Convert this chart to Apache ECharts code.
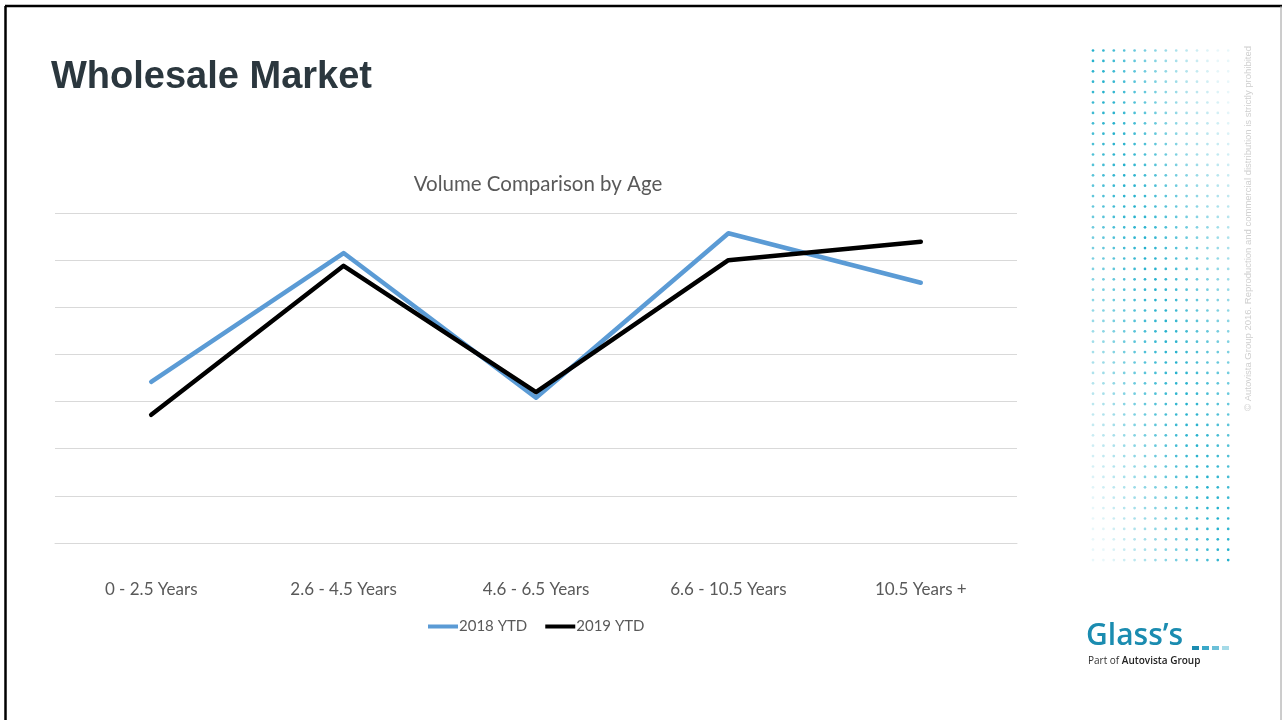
<!DOCTYPE html>
<html>
<head>
<meta charset="utf-8">
<script src="https://cdn.jsdelivr.net/npm/echarts@6/dist/echarts.min.js"></script>
<style>
html,body{margin:0;padding:0;background:#fff;}
#c{width:1282px;height:720px;}
</style>
</head>
<body>
<div id="c"></div>
<script>
const categories = ['0 - 2.5 Years', '2.6 - 4.5 Years', '4.6 - 6.5 Years', '6.6 - 10.5 Years', '10.5 Years +'];
const seriesNames = ['2018 YTD', '2019 YTD'];
const values2018 = [3420, 6150, 3080, 6570, 5520];
const values2019 = [2720, 5880, 3200, 6000, 6390];

const chart = echarts.init(document.getElementById('c'), null, {renderer: 'canvas'});

// decorative dot field (not data)
const dots = [];
const cols = 14, rows = 50;
for (let r = 0; r < rows; r++) {
  for (let c = 0; c < cols; c++) {
    const xf = c / (cols - 1), yf = r / (rows - 1);
    const op = Math.max(0.1, 1 - Math.abs(xf - yf) * 1.0);
    dots.push({
      type: 'circle',
      shape: {cx: 1093 + c * 10.4, cy: 50.5 + r * 10.4, r: 1.35},
      style: {fill: '#22b0cc', opacity: op},
      silent: true
    });
  }
}

const option = {
  backgroundColor: '#ffffff',
  animation: false,
  title: {
    text: 'Volume Comparison by Age',
    left: 533, top: 169, textAlign: 'center',
    textStyle: {fontFamily: 'Lato', fontSize: 20.5, fontWeight: 'normal', color: '#595959'}
  },
  legend: {
    data: seriesNames,
    left: 423, top: 614,
    itemWidth: 30, itemHeight: 4, itemGap: 18,
    icon: 'rect',
    textStyle: {fontFamily: 'Lato', fontSize: 15, color: '#595959', padding: [0,0,0,-4]}
  },
  grid: {left: 55, right: 265, top: 213, bottom: 177},
  xAxis: {
    type: 'category',
    data: categories,
    boundaryGap: true,
    axisLine: {lineStyle: {color: '#d9d9d9', width: 1}},
    axisTick: {show: false},
    axisLabel: {fontFamily: 'Lato', fontSize: 17, color: '#595959', margin: 38}
  },
  yAxis: {
    type: 'value',
    min: 0, max: 7000, interval: 1000,
    axisLabel: {show: false},
    axisLine: {show: false},
    axisTick: {show: false},
    splitLine: {lineStyle: {color: '#d9d9d9', width: 1}}
  },
  series: [
    {name: seriesNames[0], type: 'line', data: values2018, symbol: 'none',
     lineStyle: {color: '#5b9bd5', width: 4.5, cap: 'round', join: 'round'}, itemStyle: {color: '#5b9bd5'}},
    {name: seriesNames[1], type: 'line', data: values2019, symbol: 'none',
     lineStyle: {color: '#000000', width: 4.5, cap: 'round', join: 'round'}, itemStyle: {color: '#000000'}}
  ],
  graphic: [
    {type: 'line', shape: {x1: 5, y1: 6, x2: 1282, y2: 6}, style: {stroke: '#000', lineWidth: 2.5}, silent: true},
    {type: 'line', shape: {x1: 5.5, y1: 6, x2: 5.5, y2: 720}, style: {stroke: '#000', lineWidth: 2.5}, silent: true},
    {type: 'line', shape: {x1: 1281, y1: 6, x2: 1281, y2: 720}, style: {stroke: '#9a9a9a', lineWidth: 1}, silent: true},
    {type: 'text', left: 51, top: 59,
     style: {text: 'Wholesale Market', font: 'bold 38px "Liberation Sans", Arial, sans-serif', fill: '#2b373e'}},
    {type: 'group', children: dots, silent: true},
    {type: 'text', x: 1243, y: 411, rotation: Math.PI / 2,
     style: {text: '\u00A9 Autovista Group 2016. Reproduction and commercial distribution is strictly prohibited',
       font: '9.5px "Liberation Sans", Arial, sans-serif', fill: '#cfcfcf'}},
    {type: 'text', left: 1086, top: 621,
     style: {text: 'Glass\u2019s', font: '600 30px "Open Sans", sans-serif', fill: '#1b8cb0'}},
    {type: 'rect', shape: {x: 1192, y: 646, width: 7, height: 4}, style: {fill: '#1b8cb0'}},
    {type: 'rect', shape: {x: 1202, y: 646, width: 7, height: 4}, style: {fill: '#3aa8c8'}},
    {type: 'rect', shape: {x: 1212, y: 646, width: 7, height: 4}, style: {fill: '#6cc0d8'}},
    {type: 'rect', shape: {x: 1222, y: 646, width: 7, height: 4}, style: {fill: '#a6dbe8'}},
    {type: 'text', left: 1088, top: 656,
     style: {rich: {a: {font: '10px "Open Sans", sans-serif', fill: '#333'}, b: {font: '600 10px "Open Sans", sans-serif', fill: '#222'}},
       text: '{a|Part of }{b|Autovista Group}'}}
  ]
};
chart.setOption(option);
</script>
</body>
</html>
